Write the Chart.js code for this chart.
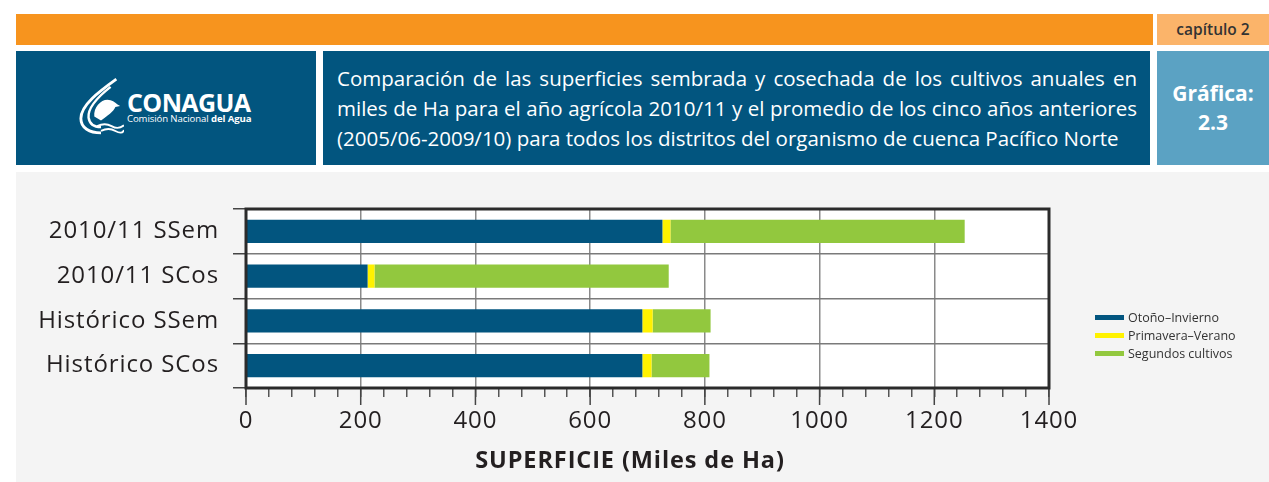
<!DOCTYPE html>
<html lang="es">
<head>
<meta charset="utf-8">
<title>Gráfica 2.3</title>
<script src="https://cdn.jsdelivr.net/npm/chart.js@4.4.1/dist/chart.umd.min.js"></script>
<style>
  html, body { margin: 0; padding: 0; background: #fff; }
  body { width: 1269px; height: 482px; position: relative; overflow: hidden; font-family: 'Open Sans', 'Noto Sans', sans-serif; }
  .band { position: absolute; left: 16px; top: 14px; width: 1137px; height: 31px; background: #f7941e; }
  .chap { position: absolute; left: 1157px; top: 14px; width: 112px; height: 31px; background: #fbb46a; color: #333; font-size: 15.5px; font-weight: 600; text-align: center; line-height: 31px; }
  .logo { position: absolute; left: 16px; top: 51px; width: 300px; height: 114px; background: #02557f; color: #fff; }
  .logo svg { position: absolute; left: 62px; top: 26px; }
  .logo .name { position: absolute; left: 111px; top: 36px; font-size: 25px; font-weight: 700; letter-spacing: -0.6px; line-height: 30px; }
  .logo .sub { position: absolute; left: 111px; top: 62px; font-size: 9.6px; line-height: 12px; letter-spacing: -0.1px; }
  .title { position: absolute; left: 323px; top: 51px; width: 827px; height: 114px; background: #02557f; color: #fff; }
  .title div { position: absolute; left: 14px; width: 800px; height: 30px; line-height: 30px; font-size: 20.5px; white-space: nowrap; }
  .title .j { text-align: justify; text-align-last: justify; }
  .graf { position: absolute; left: 1157px; top: 51px; width: 112px; height: 114px; background: #5ba2c3; color: #fff; font-weight: 700; font-size: 21px; text-align: center; }
  .graf div { position: absolute; left: 0; width: 112px; line-height: 29px; }
  .panel { position: absolute; left: 16px; top: 172px; width: 1253px; height: 310px; background: #f4f4f4; }
  #chart { position: absolute; left: 0; top: 0; }
  #legend { position: absolute; left: 1079px; top: 137px; font-size: 12.5px; color: #333; }
  #legend .item { height: 18px; line-height: 18px; white-space: nowrap; }
  #legend .sw { display: inline-block; width: 29px; height: 5px; margin-right: 4px; vertical-align: middle; position: relative; top: -1px; }
</style>
</head>
<body>
<div class="band"></div>
<div class="chap">capítulo 2</div>
<div class="logo">
  <svg width="46" height="60" viewBox="0 0 48 60">
    <path d="M40 1 C 22 14, 3 28, 3 42 C 3 52, 12 57, 24 57" stroke="#fff" stroke-width="3" fill="none"/>
    <path d="M34 9 C 20 20, 10 31, 11 41 C 12 48, 17 51, 24 51" stroke="#fff" stroke-width="2.5" fill="none"/>
    <path d="M17 40 C 16 29, 26 20, 34 23 C 38 24, 40 27, 44 29 L 39 30 C 37 35, 31 39, 24 44 Z" fill="#fff"/>
    <path d="M20 50 Q 28 46 35 50 T 48 49" stroke="#fff" stroke-width="2" fill="none"/>
    <path d="M24 55 Q 32 51 39 55 T 48 54" stroke="#fff" stroke-width="2" fill="none"/>
  </svg>
  <div class="name">CONAGUA</div>
  <div class="sub">Comisión Nacional <b>del Agua</b></div>
</div>
<div class="title">
  <div class="j" style="top:12px">Comparación de las superficies sembrada y cosechada de los cultivos anuales en</div>
  <div class="j" style="top:42px">miles de Ha para el año agrícola 2010/11 y el promedio de los cinco años anteriores</div>
  <div style="top:72px">(2005/06-2009/10) para todos los distritos del organismo de cuenca Pacífico Norte</div>
</div>
<div class="graf">
  <div style="top:28px">Gráfica:</div>
  <div style="top:57px">2.3</div>
</div>
<div class="panel">
  <canvas id="chart" width="1253" height="310"></canvas>
  <div id="legend"></div>
</div>
<script>
const categories = ['2010/11 SSem', '2010/11 SCos', 'Histórico SSem', 'Histórico SCos'];
const seriesNames = ['Otoño–Invierno', 'Primavera–Verano', 'Segundos cultivos'];
const otonoInvierno = [726, 212, 691, 691];
const primaveraVerano = [14, 12, 18, 16];
const segundosCultivos = [513, 513, 101, 101];
const seriesColors = ['#02557f', '#fff200', '#92c83e'];
const xTicks = [0, 200, 400, 600, 800, 1000, 1200, 1400];
const axisTitle = 'SUPERFICIE (Miles de Ha)';

const seriesValues = [otonoInvierno, primaveraVerano, segundosCultivos];

// white plot background + frame + long major ticks
const plotFrame = {
  id: 'plotFrame',
  beforeDraw(chart) {
    const { ctx, chartArea: a } = chart;
    ctx.save();
    ctx.fillStyle = '#fff';
    ctx.fillRect(a.left, a.top, a.right - a.left, a.bottom - a.top);
    ctx.restore();
    ctx.letterSpacing = '0.9px';
  },
  afterDraw(chart) {
    const { ctx, chartArea: a } = chart;
    const x = chart.scales.x;
    ctx.letterSpacing = '0px';
    ctx.save();
    ctx.strokeStyle = '#444';
    ctx.lineWidth = 1.5;
    xTicks.forEach(v => {
      const px = x.getPixelForValue(v);
      ctx.beginPath();
      ctx.moveTo(px, a.bottom);
      ctx.lineTo(px, a.bottom + 17);
      ctx.stroke();
    });
    ctx.strokeStyle = '#2b2b2b';
    ctx.lineWidth = 3;
    ctx.strokeRect(a.left, a.top, a.right - a.left, a.bottom - a.top);
    ctx.restore();
  }
};

new Chart(document.getElementById('chart'), {
  type: 'bar',
  data: {
    labels: categories,
    datasets: seriesNames.map((name, i) => ({
      label: name,
      data: seriesValues[i],
      backgroundColor: seriesColors[i],
      borderWidth: 0,
      barPercentage: 0.52,
      categoryPercentage: 1
    }))
  },
  options: {
    indexAxis: 'y',
    responsive: false,
    devicePixelRatio: 1,
    animation: false,
    layout: { padding: { left: 0, right: 220, top: 37, bottom: 0 } },
    plugins: {
      legend: { display: false },
      tooltip: { enabled: false }
    },
    scales: {
      x: {
        stacked: true,
        min: 0,
        max: 1400,
        afterFit: s => { s.height = 94; },
        border: { display: false },
        grid: {
          color: c => (c.tick && xTicks.includes(c.tick.value)) ? '#8a8a8a' : 'rgba(0,0,0,0)',
          lineWidth: 1.5,
          tickColor: '#555',
          tickWidth: 1.5,
          tickLength: 9
        },
        ticks: {
          stepSize: 40,
          autoSkip: false,
          maxRotation: 0,
          padding: 10,
          color: '#231f20',
          font: { family: 'Open Sans', size: 24 },
          callback: v => xTicks.includes(v) ? String(v) : ''
        },
        title: {
          display: true,
          text: axisTitle + '\u00a0\u00a0\u00a0\u00a0\u00a0',
          color: '#231f20',
          font: { family: 'Open Sans', size: 23.5, weight: 'bold' },
          padding: { top: 0, bottom: 7 }
        }
      },
      y: {
        stacked: true,
        afterFit: s => { s.width = 230; },
        border: { display: false },
        grid: {
          offset: true,
          color: '#7a7a7a',
          lineWidth: 1.5,
          tickColor: '#444',
          tickWidth: 1.5,
          tickLength: 13
        },
        ticks: {
          padding: 14,
          color: '#231f20',
          font: { family: 'Open Sans', size: 24 }
        }
      }
    }
  },
  plugins: [plotFrame]
});

const legendEl = document.getElementById('legend');
legendEl.innerHTML = seriesNames.map((name, i) =>
  `<div class="item"><span class="sw" style="background:${seriesColors[i]}"></span>${name}</div>`
).join('');
</script>
</body>
</html>
